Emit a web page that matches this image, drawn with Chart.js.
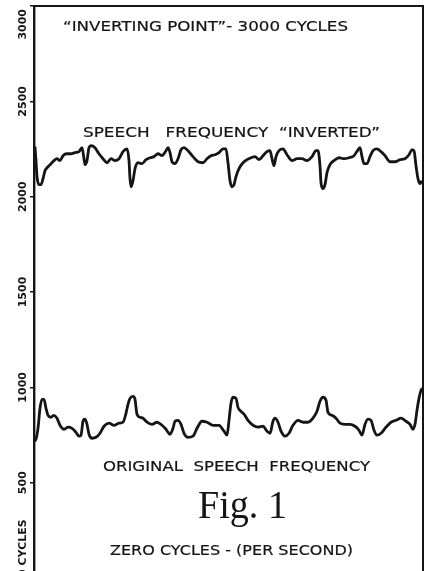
<!DOCTYPE html>
<html>
<head>
<meta charset="utf-8">
<script src="https://cdn.jsdelivr.net/npm/chart.js@4.4.1/dist/chart.umd.min.js"></script>
<style>
  html, body { margin: 0; padding: 0; background: #fff; overflow: hidden; }
  #wrap { width: 430px; height: 582px; }
</style>
</head>
<body>
<div id="wrap"><canvas id="invChart" width="430" height="582"></canvas></div>
<script>
// Frequency axis (cycles per second)
const freqTicks = [0, 500, 1000, 1500, 2000, 2500, 3000];
const freqTickLabels = ['0 CYCLES', '500', '1000', '1500', '2000', '2500', '3000'];

// Inverted speech trace: time (arbitrary units) and frequency
const invertedTime = [1, 2, 3, 5, 7, 9, 11, 14, 17, 20, 23, 26, 29, 33, 37, 41, 45, 48, 50, 51,
  53, 55, 57, 61, 65, 69, 73, 77, 81, 85, 89, 93, 95, 96, 97, 99, 101, 104, 108, 112,
  116, 120, 124, 128, 132, 134, 136, 138, 141, 144, 147, 150, 154, 159, 164, 169, 173, 177, 181, 185,
  189, 192, 194, 196, 198, 200, 202, 205, 209, 213, 217, 221, 225, 229, 233, 236, 238, 240, 242, 245,
  249, 253, 258, 263, 268, 273, 278, 282, 284, 286, 287, 289, 291, 293, 296, 300, 305, 310, 315, 320,
  324, 326, 328, 330, 333, 336, 339, 343, 347, 351, 356, 361, 366, 371, 375, 378, 380, 382, 384, 386, 388];
const invertedFreq = [2262, 2189, 2105, 2063, 2063, 2094, 2136, 2157, 2173, 2189, 2199, 2189, 2215, 2225, 2225, 2231, 2236, 2257, 2199, 2168,
  2189, 2257, 2267, 2257, 2225, 2199, 2178, 2199, 2189, 2199, 2236, 2251, 2189, 2094, 2052, 2084, 2147, 2178, 2173, 2194,
  2204, 2210, 2225, 2215, 2241, 2257, 2231, 2183, 2173, 2199, 2246, 2257, 2241, 2210, 2183, 2178, 2199, 2215, 2220, 2231,
  2251, 2251, 2178, 2084, 2052, 2063, 2105, 2147, 2178, 2194, 2204, 2210, 2194, 2215, 2236, 2241, 2199, 2162, 2210, 2241,
  2251, 2220, 2189, 2199, 2199, 2189, 2210, 2241, 2241, 2162, 2073, 2042, 2063, 2126, 2168, 2189, 2204, 2199, 2204, 2215,
  2246, 2257, 2210, 2173, 2173, 2210, 2241, 2251, 2236, 2215, 2183, 2183, 2194, 2199, 2220, 2246, 2241, 2162, 2094, 2068, 2084];

// Original speech trace
const originalTime = [0.5, 2, 4, 6, 8, 10, 12, 14, 17, 20, 23, 26, 30, 34, 38, 42, 45, 47, 49, 51,
  53, 55, 58, 62, 66, 70, 75, 80, 85, 89, 92, 94, 96, 99, 101, 103, 106, 109, 113, 118,
  123, 128, 132, 136, 139, 141, 144, 147, 150, 154, 159, 163, 168, 173, 179, 185, 190, 193, 195, 197,
  199, 202, 204, 207, 210, 214, 219, 224, 229, 233, 236, 239, 241, 244, 247, 251, 255, 259, 264, 269,
  274, 279, 283, 286, 289, 292, 294, 298, 302, 306, 311, 316, 321, 325, 328, 331, 334, 337, 340, 343,
  347, 352, 357, 362, 367, 372, 376, 379, 381, 383, 385, 387, 388.5];
const originalFreq = [717, 728, 785, 890, 937, 937, 890, 853, 843, 853, 838, 801, 780, 791, 785, 764, 744, 749, 822, 833,
  806, 754, 733, 738, 759, 796, 812, 801, 812, 817, 864, 911, 942, 953, 937, 859, 843, 838, 817, 806,
  817, 801, 780, 754, 785, 822, 827, 806, 759, 738, 744, 785, 822, 817, 801, 801, 770, 749, 827, 916,
  948, 942, 895, 874, 859, 827, 801, 791, 796, 770, 759, 822, 838, 817, 770, 744, 759, 801, 827, 817,
  817, 838, 874, 927, 948, 932, 869, 853, 838, 812, 806, 806, 796, 775, 749, 806, 833, 827, 775, 749,
  759, 791, 817, 827, 838, 822, 806, 780, 806, 880, 942, 984, 995];

const INK = '#151515';

const toPoints = (xs, ys) => xs.map((x, i) => ({ x: x, y: ys[i] }));

// caption text fitted to a given span, drawn on its baseline (lettering is a bit heavier than the font)
function fitText(ctx, text, left, right, baseline, font, weight) {
  ctx.save();
  ctx.font = font;
  const w = ctx.measureText(text).width;
  ctx.translate(left, baseline);
  ctx.scale((right - left) / w, 1);
  ctx.textAlign = 'left';
  ctx.textBaseline = 'alphabetic';
  ctx.fillStyle = INK;
  ctx.strokeStyle = INK;
  ctx.lineWidth = weight;
  ctx.fillText(text, 0, 0);
  if (weight > 0) ctx.strokeText(text, 0, 0);
  ctx.restore();
}

// top and right edges of the frame
const framePlugin = {
  id: 'frame',
  afterDatasetsDraw(chart) {
    const { ctx, chartArea: a } = chart;
    ctx.save();
    ctx.strokeStyle = INK;
    ctx.lineWidth = 2;
    ctx.beginPath();
    ctx.moveTo(a.left - 1, a.top);
    ctx.lineTo(a.right + 1, a.top);
    ctx.moveTo(a.right, a.top);
    ctx.lineTo(a.right, a.bottom);
    ctx.stroke();
    ctx.restore();
  }
};

// rotated frequency labels along the left axis
const freqLabelPlugin = {
  id: 'freqLabels',
  afterDraw(chart) {
    const { ctx } = chart;
    const y = chart.scales.y;
    ctx.save();
    ctx.font = 'bold 11px "DejaVu Sans"';
    ctx.fillStyle = INK;
    ctx.textBaseline = 'middle';
    y.ticks.forEach(t => {
      const idx = freqTicks.indexOf(t.value);
      if (idx < 0) return;
      let py = y.getPixelForValue(t.value);
      let align = 'center';
      if (t.value === y.max) { align = 'right'; py += 3; }
      if (t.value === y.min) { align = 'left'; py -= 1; }
      ctx.save();
      ctx.translate(23, py);
      ctx.rotate(-Math.PI / 2);
      ctx.textAlign = align;
      ctx.fillText(freqTickLabels[idx], 0, 0);
      ctx.restore();
    });
    ctx.restore();
  }
};

const captionPlugin = {
  id: 'captions',
  afterDraw(chart) {
    const ctx = chart.ctx;
    const sans = '14px "DejaVu Sans"';
    fitText(ctx, '\u201CINVERTING POINT\u201D- 3000 CYCLES', 63, 348, 31, sans, 0.2);
    fitText(ctx, 'SPEECH   FREQUENCY  \u201CINVERTED\u201D', 83, 380, 137, sans, 0.2);
    fitText(ctx, 'ORIGINAL  SPEECH  FREQUENCY', 103, 370, 471, sans, 0.2);
    fitText(ctx, 'Fig. 1', 198, 287, 518, '39px "Liberation Serif"', 0);
    fitText(ctx, 'ZERO CYCLES - (PER SECOND)', 110, 353, 555, sans, 0.2);
  }
};

new Chart(document.getElementById('invChart'), {
  type: 'line',
  data: {
    datasets: [
      {
        label: 'Speech frequency inverted',
        data: toPoints(invertedTime, invertedFreq),
        borderColor: INK,
        borderWidth: 2.8,
        pointRadius: 0,
        cubicInterpolationMode: 'monotone',
        fill: false
      },
      {
        label: 'Original speech frequency',
        data: toPoints(originalTime, originalFreq),
        borderColor: INK,
        borderWidth: 2.8,
        pointRadius: 0,
        cubicInterpolationMode: 'monotone',
        fill: false
      }
    ]
  },
  options: {
    responsive: false,
    animation: false,
    events: [],
    layout: { autoPadding: false, padding: { left: 0, top: 6, right: 7, bottom: 4 } },
    plugins: {
      legend: { display: false },
      title: { display: false },
      tooltip: { enabled: false }
    },
    scales: {
      x: {
        type: 'linear',
        min: 0,
        max: 389,
        display: false
      },
      y: {
        min: 0,
        max: 3000,
        afterBuildTicks: s => { s.ticks = freqTicks.map(v => ({ value: v })); },
        afterFit: s => { s.width = 34; },
        ticks: { display: false },
        grid: { drawOnChartArea: false, tickLength: 4, color: INK, lineWidth: 1.5 },
        border: { color: INK, width: 2.4 }
      }
    }
  },
  plugins: [framePlugin, freqLabelPlugin, captionPlugin]
});
</script>
</body>
</html>
